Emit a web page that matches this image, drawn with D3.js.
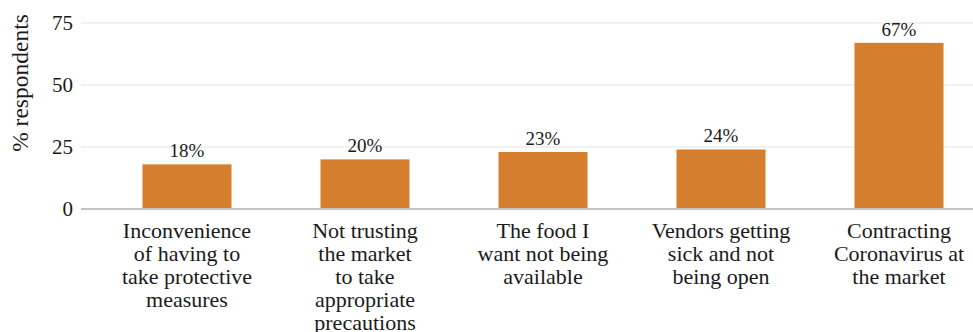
<!DOCTYPE html>
<html>
<head>
<meta charset="utf-8">
<script src="https://cdn.jsdelivr.net/npm/d3@7"></script>
<style>
  body { margin: 0; background: #fff; }
</style>
</head>
<body>
<div id="chart"></div>
<script>
// data
var categories = [
  "Inconvenience\nof having to\ntake protective\nmeasures",
  "Not trusting\nthe market\nto take\nappropriate\nprecautions",
  "The food I\nwant not being\navailable",
  "Vendors getting\nsick and not\nbeing open",
  "Contracting\nCoronavirus at\nthe market"
];
var values = [18, 20, 23, 24, 67];
var yTicks = [0, 25, 50, 75];

var width = 973, height = 332;
var plotLeft = 81, plotRight = 973;
var serif = "'Liberation Serif', 'Times New Roman', serif";
var ink = "#1a1a1a";

var svg = d3.select("#chart").append("svg")
    .attr("width", width)
    .attr("height", height);

var x = d3.scaleBand()
    .domain(categories)
    .range([98, 988])
    .paddingInner(0.5)
    .paddingOuter(0.25);

var y = d3.scaleLinear()
    .domain([0, 75])
    .range([209, 23]);

// gridlines
svg.selectAll("line.grid")
    .data(yTicks.filter(function(d) { return d > 0; }))
  .enter().append("line")
    .attr("class", "grid")
    .attr("x1", plotLeft)
    .attr("x2", plotRight)
    .attr("y1", function(d) { return y(d); })
    .attr("y2", function(d) { return y(d); })
    .attr("stroke", "#e3e3e3")
    .attr("stroke-width", 1);

// y tick labels
svg.selectAll("text.ytick")
    .data(yTicks)
  .enter().append("text")
    .attr("class", "ytick")
    .attr("x", 73)
    .attr("y", function(d) { return y(d); })
    .attr("dy", "0.35em")
    .attr("text-anchor", "end")
    .style("font-family", serif)
    .style("font-size", "21px")
    .style("fill", ink)
    .text(function(d) { return d; });

// y axis title
svg.append("text")
    .attr("transform", "translate(28," + 83 + ") rotate(-90)")
    .attr("text-anchor", "middle")
    .style("font-family", serif)
    .style("font-size", "23.5px")
    .style("fill", ink)
    .text("% respondents");

// bars
svg.selectAll("rect.bar")
    .data(values)
  .enter().append("rect")
    .attr("class", "bar")
    .attr("x", function(d, i) { return x(categories[i]); })
    .attr("y", function(d) { return y(d); })
    .attr("width", x.bandwidth())
    .attr("height", function(d) { return y(0) - y(d); })
    .attr("fill", "#d57e2d");

// value labels
svg.selectAll("text.val")
    .data(values)
  .enter().append("text")
    .attr("class", "val")
    .attr("x", function(d, i) { return x(categories[i]) + x.bandwidth() / 2; })
    .attr("y", function(d) { return y(d) - 7; })
    .attr("text-anchor", "middle")
    .style("font-family", serif)
    .style("font-size", "19px")
    .style("fill", ink)
    .text(function(d) { return d + "%"; });

// zero line
svg.append("line")
    .attr("x1", plotLeft)
    .attr("x2", plotRight)
    .attr("y1", y(0))
    .attr("y2", y(0))
    .attr("stroke", "#c4c4c4")
    .attr("stroke-width", 2);

// category labels
var catLabel = svg.selectAll("text.cat")
    .data(categories)
  .enter().append("text")
    .attr("class", "cat")
    .attr("text-anchor", "middle")
    .style("font-family", serif)
    .style("font-size", "22px")
    .style("fill", ink);

catLabel.each(function(d) {
  var t = d3.select(this);
  var cx = x(d) + x.bandwidth() / 2;
  d.split("\n").forEach(function(line, j) {
    t.append("tspan")
      .attr("x", cx)
      .attr("y", 238 + j * 23)
      .text(line);
  });
});
</script>
</body>
</html>
